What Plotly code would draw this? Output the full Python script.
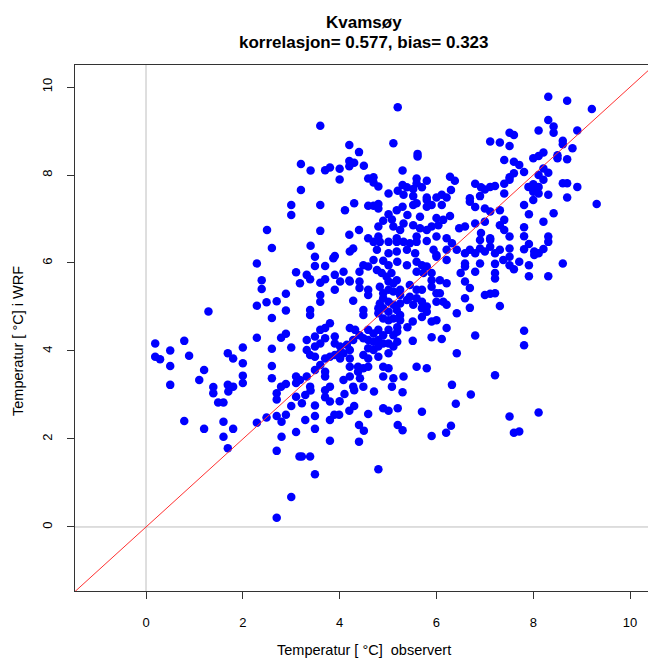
import plotly.graph_objects as go

points = [
    (3.20, 8.25), (3.20, 7.66), (3.00, 7.32), (3.00, 7.09), (2.50, 6.75),
    (5.20, 9.54), (3.60, 9.12), (4.20, 8.68), (5.11, 8.72), (4.40, 8.52), (5.61, 8.48), (5.61, 8.42),
    (4.20, 8.32), (4.30, 8.28), (4.20, 8.20), (4.50, 8.21), (3.40, 8.10), (3.70, 8.11), (3.80, 8.17),
    (4.00, 8.14), (5.30, 8.10), (4.00, 7.90), (4.59, 7.92), (4.70, 7.95), (4.70, 7.83), (4.80, 7.74),
    (5.59, 7.92), (5.80, 7.87), (6.28, 7.96), (6.38, 7.87), (5.30, 7.77), (5.39, 7.72), (5.52, 7.68),
    (5.70, 7.72), (5.59, 7.81), (5.20, 7.64), (5.32, 7.55), (5.01, 7.58), (5.52, 7.52), (5.80, 7.49),
    (6.00, 7.49), (6.11, 7.55), (6.21, 7.49), (6.30, 7.66), (3.60, 7.32), (4.11, 7.20), (4.30, 7.36),
    (4.59, 7.30), (4.70, 7.30), (4.80, 7.34), (4.80, 7.24), (5.01, 7.11), (5.18, 7.20), (5.30, 7.28),
    (5.40, 7.09), (5.52, 7.32), (5.59, 7.36), (5.80, 7.43), (5.80, 7.28), (5.90, 7.32), (6.11, 7.32),
    (6.28, 7.07), (5.66, 7.05), (6.00, 7.02), (6.14, 6.98), (4.90, 6.96), (5.08, 6.99), (4.80, 6.83),
    (5.11, 6.83), (5.25, 6.75), (5.32, 6.90), (5.52, 6.86), (5.66, 6.79), (5.80, 6.75), (5.90, 6.83),
    (6.04, 6.86), (3.60, 6.73), (4.20, 6.64), (4.40, 6.75), (4.59, 6.56), (4.80, 6.60), (5.18, 6.56),
    (5.59, 6.60), (6.00, 6.60), (6.21, 6.56), (6.47, 6.79),
    (8.31, 9.78), (8.70, 9.69), (9.21, 9.50), (8.31, 9.25), (8.42, 9.10), (8.42, 8.96), (8.11, 9.01),
    (8.91, 9.01), (7.51, 8.96), (7.60, 8.91), (7.11, 8.76), (7.31, 8.74), (7.51, 8.66), (8.61, 8.78),
    (8.61, 8.70), (8.81, 8.61), (7.40, 8.34), (7.60, 8.30), (7.71, 8.23), (8.00, 8.38), (8.11, 8.43),
    (8.21, 8.51), (8.50, 8.45), (8.50, 8.38), (8.70, 8.36), (7.60, 8.04), (7.81, 8.07), (7.51, 7.95),
    (7.51, 7.89), (8.21, 8.15), (8.31, 8.05), (8.11, 8.00), (8.21, 7.89), (6.80, 7.80), (6.92, 7.72),
    (7.11, 7.73), (7.21, 7.75), (7.00, 7.67), (7.40, 7.80), (7.40, 7.58), (7.90, 7.73), (8.00, 7.79),
    (8.11, 7.73), (8.00, 7.62), (8.11, 7.58), (8.00, 7.43), (8.31, 7.55), (8.61, 7.81), (8.70, 7.81),
    (8.91, 7.73), (8.70, 7.49), (9.31, 7.34), (6.69, 7.47), (6.69, 7.39), (6.90, 7.52), (6.80, 7.27),
    (7.00, 7.24), (7.11, 7.17), (7.31, 7.20), (7.81, 7.32), (7.91, 7.11), (8.21, 6.94), (8.42, 7.13),
    (6.59, 6.83), (6.80, 6.90), (7.00, 6.94), (6.92, 6.68), (7.11, 6.56), (7.31, 6.86), (7.40, 6.98),
    (7.40, 6.75), (7.51, 6.60), (7.81, 6.81), (7.81, 6.61), (8.31, 6.60),
    (2.60, 6.34), (2.29, 5.99), (3.10, 5.79), (3.18, 5.54), (2.39, 5.61), (2.39, 5.41), (2.49, 5.11),
    (2.70, 5.13), (2.89, 5.30), (2.89, 4.92), (2.29, 5.03), (2.60, 4.75), (1.29, 4.90), (0.19, 4.17),
    (0.79, 4.23), (0.50, 4.01), (0.19, 3.87), (0.29, 3.81), (0.89, 3.89), (0.50, 3.66), (1.20, 3.57),
    (1.10, 3.34), (0.50, 3.23), (1.39, 3.18), (1.69, 3.95), (1.80, 3.83), (2.00, 4.08), (2.00, 3.72),
    (2.00, 3.44), (2.00, 3.27), (1.69, 3.23), (1.80, 3.19), (2.29, 4.30), (2.60, 4.05), (2.60, 3.66),
    (2.60, 3.38), (2.79, 4.30), (2.89, 4.39), (3.00, 4.08), (3.10, 3.42), (3.10, 3.27), (2.79, 3.19),
    (2.89, 3.25),
    (1.39, 3.04), (1.70, 3.08), (1.49, 2.83), (1.60, 2.83), (0.79, 2.41), (1.20, 2.23), (1.60, 2.39),
    (1.60, 2.05), (1.80, 2.23), (1.69, 1.79), (2.29, 2.37), (2.49, 2.49), (2.70, 3.04), (2.70, 2.90),
    (2.70, 2.52), (2.80, 2.39), (2.89, 2.55), (3.00, 2.75), (3.10, 2.96), (2.80, 2.05), (2.70, 1.73),
    (3.10, 2.16), (3.17, 1.60), (3.00, 0.68), (2.70, 0.21),
    (3.29, 3.00), (3.40, 3.10), (3.70, 2.95), (3.80, 2.85), (3.70, 3.11), (3.22, 2.81), (4.10, 3.02),
    (4.00, 2.86), (4.30, 3.11), (4.71, 3.08), (5.30, 3.06), (3.49, 2.76), (3.49, 2.52), (3.29, 2.43),
    (3.49, 2.23), (3.80, 2.43), (3.89, 2.55), (3.99, 2.55), (4.20, 2.64), (4.30, 2.75), (4.59, 2.57),
    (4.40, 2.32), (4.50, 2.19), (4.40, 1.94), (3.80, 1.96), (4.90, 2.70), (5.01, 2.64), (5.20, 2.70),
    (5.20, 2.32), (5.30, 2.20), (5.70, 2.62), (5.90, 2.07), (6.20, 2.14), (6.30, 2.30), (6.40, 2.80),
    (3.22, 1.60), (3.39, 1.60), (3.49, 1.20), (4.80, 1.31),
    (6.71, 3.01), (7.51, 2.51), (8.11, 2.60), (7.60, 2.14), (7.71, 2.17),
    (8.31, 6.48), (7.91, 6.43), (8.21, 6.32), (8.02, 6.26), (8.02, 6.18), (8.11, 6.22), (7.81, 6.31),
    (8.61, 5.99), (7.91, 5.95), (7.91, 5.70), (8.31, 5.70), (7.51, 6.33), (7.51, 6.14), (7.51, 5.95),
    (7.60, 5.86), (7.71, 6.03), (7.31, 6.30), (7.21, 6.22), (7.11, 6.37), (7.00, 6.26), (6.90, 6.33),
    (6.69, 6.30), (6.59, 6.22), (6.80, 6.22), (7.11, 6.52), (6.90, 6.52), (7.21, 5.98), (7.38, 6.07),
    (6.90, 5.99), (6.80, 5.80), (6.59, 5.99), (6.59, 5.92), (6.50, 5.77), (7.21, 5.77), (7.21, 5.65),
    (6.59, 5.58), (6.69, 5.43), (6.59, 5.20), (6.69, 4.98), (7.00, 5.27), (7.11, 5.30), (7.21, 5.31),
    (7.31, 5.02), (6.80, 4.35), (7.81, 4.46), (7.81, 4.13), (7.21, 3.45),
    (3.40, 6.39), (4.21, 6.26), (4.28, 6.33), (4.70, 6.48), (4.83, 6.48), (5.01, 6.48), (5.18, 6.48),
    (5.32, 6.48), (5.45, 6.45), (5.59, 6.48), (5.80, 6.50), (4.77, 6.30), (5.01, 6.22), (5.18, 6.26),
    (5.39, 6.30), (5.56, 6.22), (5.94, 6.30), (6.21, 6.30), (6.00, 6.14), (3.49, 6.14), (3.70, 5.93),
    (3.87, 6.11), (3.90, 6.16), (3.49, 5.93), (3.32, 5.73), (3.39, 5.63), (4.08, 5.80), (3.90, 5.73),
    (3.70, 5.63), (3.60, 5.55), (4.01, 5.58), (4.20, 5.60), (3.90, 5.39), (4.41, 5.80), (4.49, 5.95),
    (4.59, 5.92), (4.70, 6.07), (4.90, 6.05), (5.01, 5.95), (4.77, 5.84), (4.87, 5.77), (4.97, 5.69),
    (5.07, 5.77), (5.01, 5.58), (5.11, 5.54), (5.18, 5.61), (5.19, 6.03), (5.39, 5.95), (5.59, 6.03),
    (5.70, 5.95), (5.80, 5.92), (5.59, 5.80), (5.73, 5.77), (5.90, 5.77), (6.00, 6.18), (6.21, 6.07),
    (5.90, 5.61), (5.90, 5.46), (6.07, 5.61), (6.21, 5.54), (6.07, 5.31), (4.21, 5.58), (4.41, 5.58),
    (4.41, 5.43), (4.59, 5.39), (4.59, 5.27), (4.28, 5.14), (4.83, 5.46), (4.90, 5.31), (5.01, 5.39),
    (5.11, 5.35), (5.25, 5.39), (5.25, 5.27), (5.45, 5.50), (5.59, 5.39), (5.70, 5.39), (5.45, 5.23),
    (5.59, 5.20), (4.90, 5.20), (4.83, 5.08), (5.01, 5.12), (5.11, 5.05), (4.90, 4.97), (4.80, 4.97),
    (5.25, 5.08), (5.39, 5.16), (5.52, 5.05), (5.70, 5.12), (5.70, 4.97), (5.80, 5.01), (5.80, 4.89),
    (6.00, 5.31), (6.21, 5.05), (6.42, 4.86), (6.00, 5.12), (3.60, 5.27), (3.60, 5.12), (3.39, 4.93),
    (3.39, 4.82), (4.49, 4.93), (4.49, 4.82), (4.80, 4.86), (5.01, 4.89), (5.18, 4.93), (5.25, 4.82),
    (4.90, 4.74), (5.01, 4.70), (5.11, 4.74), (5.25, 4.70), (5.51, 4.67), (5.70, 4.77), (5.90, 4.67),
    (6.00, 4.70), (6.21, 4.52), (6.42, 3.95), (5.90, 4.31), (6.11, 4.27), (5.51, 4.23), (5.40, 4.54),
    (5.19, 4.54), (4.21, 4.52), (4.32, 4.48), (4.41, 4.36), (4.59, 4.48), (4.70, 4.40), (4.80, 4.48),
    (4.90, 4.36), (5.01, 4.48), (5.11, 4.36), (5.19, 4.44), (4.49, 4.29), (4.59, 4.25), (4.70, 4.21),
    (4.80, 4.25), (4.90, 4.17), (5.01, 4.17), (4.80, 4.10), (4.59, 4.06), (4.70, 4.02), (5.11, 4.10),
    (5.19, 4.21), (5.01, 3.95), (4.80, 3.87), (4.59, 3.83), (4.49, 3.91), (4.90, 3.64), (5.01, 3.61),
    (4.38, 3.64), (4.38, 3.53), (4.49, 3.61), (4.59, 3.64), (4.21, 4.02), (4.21, 3.83), (4.28, 4.25),
    (4.15, 4.14), (4.21, 3.64), (4.21, 3.42), (4.01, 4.10), (3.90, 4.17), (4.08, 3.95), (4.01, 3.83),
    (3.70, 4.29), (3.70, 4.52), (3.60, 4.48), (3.80, 4.63), (3.90, 4.33), (3.32, 4.25), (3.49, 4.33),
    (3.32, 4.02), (3.49, 4.10), (3.60, 4.17), (3.39, 3.91), (3.49, 3.87), (3.70, 3.83), (3.80, 3.87),
    (3.90, 3.91), (4.01, 3.95), (3.60, 3.68), (3.49, 3.57), (3.70, 3.53), (3.70, 3.42), (3.32, 3.42),
    (3.18, 3.34), (3.39, 3.19), (3.80, 3.19), (4.08, 3.34), (4.28, 3.19), (4.42, 3.38), (4.49, 3.19),
    (4.90, 3.42), (5.11, 3.38), (5.32, 3.42), (5.59, 3.64), (5.80, 3.61), (5.08, 3.19), (6.32, 3.23),
    (6.14, 5.12), (6.32, 6.45), (6.42, 6.30),
]
obs = [p[0] for p in points]
wrf = [p[1] for p in points]

x_ticks = [0, 2, 4, 6, 8, 10]
y_ticks = [0, 2, 4, 6, 8, 10]
x_range = [-1.467, 10.37]
y_range = [-1.455, 10.5]
ref_line = [-2, 11]

title_lines = ["Kvamsøy", "korrelasjon= 0.577, bias= 0.323"]
x_label = "Temperatur [ °C]  observert"
y_label = "Temperatur [ °C] i WRF"

FONT = "Liberation Sans, Arial, sans-serif"

fig = go.Figure()
fig.add_trace(go.Scatter(x=[0, 0], y=[-5, 15], mode="lines",
                         line=dict(color="#bebebe", width=1), hoverinfo="skip"))
fig.add_trace(go.Scatter(x=[-5, 15], y=[0, 0], mode="lines",
                         line=dict(color="#bebebe", width=1), hoverinfo="skip"))
fig.add_trace(go.Scatter(x=obs, y=wrf, mode="markers",
                         marker=dict(color="#0000ff", size=8.5, line=dict(width=0))))
fig.add_trace(go.Scatter(x=ref_line, y=ref_line, mode="lines",
                         line=dict(color="#ff3030", width=1), hoverinfo="skip"))

fig.update_layout(
    width=648, height=661,
    margin=dict(l=75, r=0, t=65, b=70),
    paper_bgcolor="white", plot_bgcolor="white",
    showlegend=False,
    font=dict(family=FONT, size=13, color="black"),
    xaxis=dict(range=x_range, tickvals=x_ticks, ticks="outside", ticklen=7,
               tickcolor="#333", showgrid=False, zeroline=False,
               showline=True, linecolor="#333", linewidth=1, mirror=True,
               ticklabelstandoff=12, tickfont=dict(size=13, family=FONT)),
    yaxis=dict(range=y_range, tickvals=y_ticks, ticks="outside", ticklen=7,
               tickcolor="#333", showgrid=False, zeroline=False,
               showline=True, linecolor="#333", linewidth=1, mirror=False,
               tickangle=-90, ticklabelstandoff=10,
               tickfont=dict(size=13, family=FONT)),
    annotations=[
        dict(text="<b>" + title_lines[0] + "</b>", x=364, y=661 - 22, xref="paper", yref="paper",
             showarrow=False, font=dict(size=17, family=FONT)),
        dict(text="<b>" + title_lines[1] + "</b>", x=364, y=661 - 43, xref="paper", yref="paper",
             showarrow=False, font=dict(size=17, family=FONT)),
        dict(text=x_label, x=364, y=661 - 650, xref="paper", yref="paper",
             showarrow=False, font=dict(size=14.5, family=FONT)),
        dict(text=y_label, x=18, y=661 - 341, xref="paper", yref="paper",
             showarrow=False, textangle=-90, font=dict(size=14.5, family=FONT)),
    ],
)

# convert pixel positions of annotations to paper coordinates
W, H = 648, 661
L, R, T, B = 75, 0, 65, 70
pw, ph = W - L - R, H - T - B
new_ann = []
for a in fig.layout.annotations:
    a.x = (a.x - L) / pw
    a.y = (a.y - B) / ph
    a.xanchor = "center"
    a.yanchor = "middle"
    new_ann.append(a)
fig.layout.annotations = new_ann

fig.write_html("out.html")
